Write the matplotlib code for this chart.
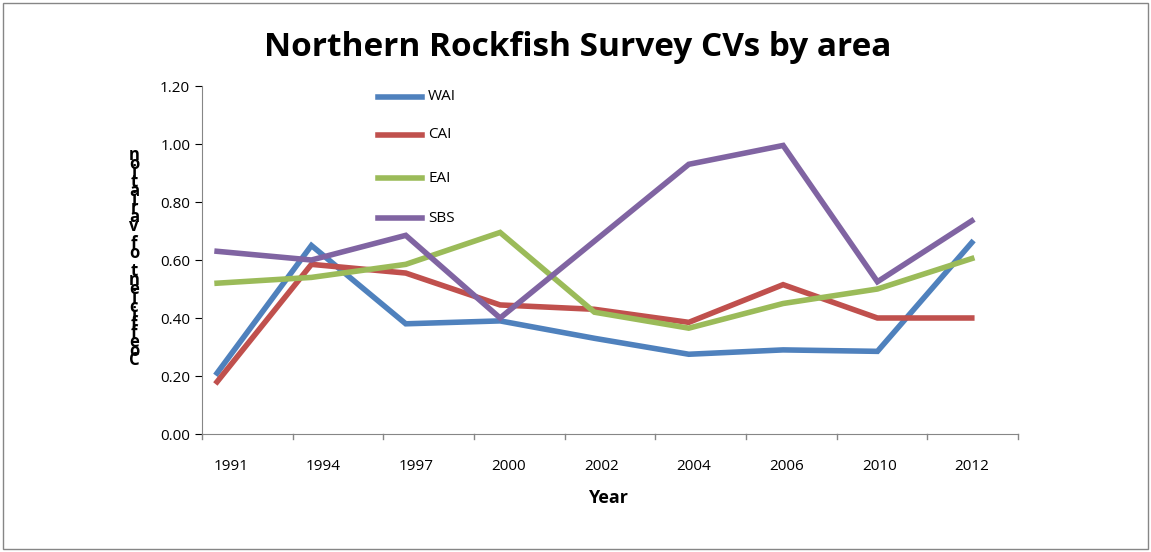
import matplotlib
matplotlib.use("Agg")
import matplotlib.pyplot as plt
from matplotlib.lines import Line2D

years = ["1991","1994","1997","2000","2002","2004","2006","2010","2012"]
WAI = [0.21,0.65,0.38,0.39,0.33,0.275,0.29,0.285,0.66]
CAI = [0.18,0.585,0.555,0.445,0.43,0.385,0.515,0.40,0.40]
EAI = [0.52,0.54,0.585,0.695,0.42,0.365,0.45,0.50,0.605]
SBS = [0.63,0.60,0.685,0.40,0.665,0.93,0.995,0.525,0.735]
series = {"WAI":WAI,"CAI":CAI,"EAI":EAI,"SBS":SBS}
colors = {"WAI":"#4F81BD","CAI":"#C0504D","EAI":"#9BBB59","SBS":"#8064A2"}

W,H = 1151,552
fig = plt.figure(figsize=(W/100,H/100), dpi=100)
plt.rcParams['font.family'] = ['Open Sans','DejaVu Sans']
ax = fig.add_axes([202/W, 1-434/H, 816/W, 348/H])
x = list(range(len(years)))
for k,v in series.items():
    ax.plot(x, v, color=colors[k], lw=4, solid_joinstyle='miter')
ax.set_xlim(-0.16, 8.49)
ax.set_ylim(0, 1.2)
ax.set_yticks([i*0.2 for i in range(7)])
ax.set_yticklabels([f"{i*0.2:.2f}" for i in range(7)], fontsize=11)
lx = [0.148 + i*(8-0.148)/8 for i in x]
ax.set_xticks(lx)
ax.set_xticklabels(years, fontsize=11)
ax.tick_params(axis='x', length=0, pad=18)
ax.tick_params(axis='y', direction='out', length=5)
span = 8.49 + 0.16
for i in range(10):
    xt = -0.16 + i*span/9
    ax.plot([xt,xt],[0,-0.018], color='#868686', lw=1, clip_on=False)
for s in ['top','right']:
    ax.spines[s].set_visible(False)
for s in ['left','bottom']:
    ax.spines[s].set_color('#868686')
fig.text(578/W, 1-48/H, "Northern Rockfish Survey CVs by area", ha='center', va='center', fontsize=24, fontweight='bold')
fig.text(608/W, 1-498/H, "Year", ha='center', va='center', fontsize=13, fontweight='bold')
label = "Coefficient of variation"
n = len(label)
for i,ch in enumerate(label):
    y = 360 - i*(205/(n-1))
    fig.text(134/W, 1-y/H, ch, ha='center', va='center', fontsize=12, fontweight='bold')
for i,k in enumerate(series):
    y = 1-[97,135,178,218][i]/H
    fig.add_artist(Line2D([378/W,422/W],[y,y], color=colors[k], lw=4, transform=fig.transFigure))
    fig.text(428/W, y, k, va='center', fontsize=11)
fig.add_artist(plt.Rectangle((3/W,3/H),1-6/W,1-6/H, fill=False, ec='#868686', lw=1, transform=fig.transFigure))
fig.savefig("out.png", dpi=100)
